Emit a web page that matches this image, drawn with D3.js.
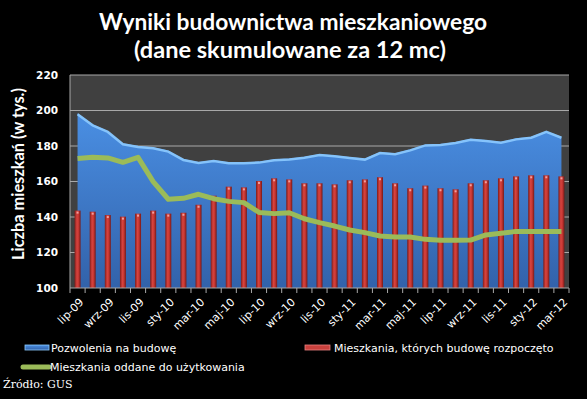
<!DOCTYPE html>
<meta charset='utf-8'>
<style>
  body { margin: 0; background: #000; }
  svg { display: block; }
</style>
<svg width='587' height='399'></svg>
<script src='https://cdn.jsdelivr.net/npm/d3@7'></script>
<script>
  // kategorie (miesiace) i serie w tys. mieszkan
  var categories = ['lip-09','sie-09','wrz-09','paź-09','lis-09','gru-09',
    'sty-10','lut-10','mar-10','kwi-10','maj-10','cze-10','lip-10','sie-10','wrz-10','paź-10','lis-10','gru-10',
    'sty-11','lut-11','mar-11','kwi-11','maj-11','cze-11','lip-11','sie-11','wrz-11','paź-11','lis-11','gru-11',
    'sty-12','lut-12','mar-12'];

  var pozwolenia = [198.4,192.2,188.5,181.5,180,179.3,177.4,172.7,171,172.1,170.8,170.8,
    171.2,172.5,173,174,175.5,174.8,173.8,172.9,176.6,175.9,178.1,180.9,181.1,182.3,
    184.1,183.4,182.4,184.3,185.2,188.5,185.2];

  var rozpoczete = [143.6,143,141.1,140.2,141.9,143.6,141.9,142.4,146.9,152,157.1,156.7,
    160.3,161.8,161.2,159,159,158.4,160.7,161.2,162.4,159,156.2,157.7,156.2,
    155.6,159,160.7,161.8,162.9,163.5,163.5,162.9];

  var oddane = [172.9,173.6,173.3,170.8,173.6,159.9,150,150.5,152.8,150.3,148.8,148.1,
    142.6,141.9,142.4,139,136.8,134.9,132.7,131.2,129.3,128.7,128.7,127.4,126.9,
    126.9,127,129.9,130.8,131.9,131.9,131.9,131.9];

  var yTicks = [100, 120, 140, 160, 180, 200, 220];

  var svg = d3.select('svg'),
    width = +svg.attr('width'),
    height = +svg.attr('height');

  var plotL = 70, plotR = 569, plotT = 75, plotB = 288;

  svg.append('rect').attr('width', width).attr('height', height).attr('fill', '#000');

  var defs = svg.append('defs');
  var gBlue = defs.append('linearGradient').attr('id', 'gBlue')
    .attr('x1', 0).attr('y1', 0).attr('x2', 0).attr('y2', 1);
  gBlue.append('stop').attr('offset', '0%').attr('stop-color', '#4a8fe3');
  gBlue.append('stop').attr('offset', '100%').attr('stop-color', '#3262aa');

  var gRed = defs.append('linearGradient').attr('id', 'gRed')
    .attr('x1', 0).attr('y1', 0).attr('x2', 1).attr('y2', 0);
  gRed.append('stop').attr('offset', '0%').attr('stop-color', '#7e1c1a');
  gRed.append('stop').attr('offset', '40%').attr('stop-color', '#d8433e');
  gRed.append('stop').attr('offset', '65%').attr('stop-color', '#c63733');
  gRed.append('stop').attr('offset', '100%').attr('stop-color', '#761816');

  var x = d3.scaleBand().domain(categories).range([plotL, plotR]);
  var y = d3.scaleLinear().domain([100, 220]).range([plotB, plotT]);
  var cx = d => x(d) + x.bandwidth() / 2;

  // tlo obszaru wykresu
  svg.append('rect')
    .attr('x', plotL).attr('y', plotT)
    .attr('width', plotR - plotL).attr('height', plotB - plotT)
    .attr('fill', '#404040');

  svg.append('g')
    .selectAll('line')
    .data(yTicks.slice(1))
    .enter().append('line')
      .attr('x1', plotL).attr('x2', plotR)
      .attr('y1', d => y(d)).attr('y2', d => y(d))
      .attr('stroke', '#a8a8a8').attr('stroke-width', 1);

  // pozwolenia - obszar
  var area = d3.area()
    .x((d, i) => cx(categories[i]))
    .y0(y(100))
    .y1(d => y(d));
  svg.append('path')
    .datum(pozwolenia)
    .attr('d', area)
    .attr('fill', 'url(#gBlue)');
  svg.append('path')
    .datum(pozwolenia)
    .attr('d', d3.line().x((d, i) => cx(categories[i])).y(d => y(d) + 1))
    .attr('fill', 'none')
    .attr('stroke', '#8ccaff')
    .attr('stroke-width', 2.5)
    .attr('stroke-opacity', 0.9);

  // rozpoczete - slupki
  var bw = 6;
  var bars = svg.append('g').selectAll('g')
    .data(rozpoczete)
    .enter().append('g');
  bars.append('rect')
    .attr('x', (d, i) => cx(categories[i]) - bw / 2)
    .attr('y', d => y(d))
    .attr('width', bw)
    .attr('height', d => y(100) - y(d))
    .attr('fill', 'url(#gRed)');
  bars.append('rect')
    .attr('x', (d, i) => cx(categories[i]) - 1)
    .attr('y', d => y(d) + 1)
    .attr('width', 2).attr('height', 2)
    .attr('fill', '#f2a0a0');

  // oddane - linia
  svg.append('path')
    .datum(oddane)
    .attr('d', d3.line().x((d, i) => cx(categories[i])).y(d => y(d)))
    .attr('fill', 'none')
    .attr('stroke', '#9bbb59')
    .attr('stroke-width', 5)
    .attr('stroke-linejoin', 'round');

  // osie
  svg.append('line')
    .attr('x1', plotL).attr('x2', plotL).attr('y1', plotT).attr('y2', plotB)
    .attr('stroke', '#a8a8a8');

  var xAxis = svg.append('g')
    .attr('transform', 'translate(0,' + plotB + ')');
  xAxis.append('line')
    .attr('x1', plotL).attr('x2', plotR)
    .attr('stroke', '#a8a8a8');
  xAxis.selectAll('.tick')
    .data(categories.concat(['end']))
    .enter().append('line')
      .attr('x1', (d, i) => i < categories.length ? x(d) : plotR)
      .attr('x2', (d, i) => i < categories.length ? x(d) : plotR)
      .attr('y1', 0).attr('y2', 5)
      .attr('stroke', '#a8a8a8');
  xAxis.selectAll('text')
    .data(categories.filter((d, i) => i % 2 === 0))
    .enter().append('text')
      .attr('transform', d => 'translate(' + (cx(d) + 4) + ',12) rotate(-45)')
      .attr('text-anchor', 'end')
      .attr('dy', '0.35em')
      .attr('fill', '#fff')
      .attr('font-family', 'DejaVu Sans')
      .attr('font-size', 11)
      .text(d => d);

  svg.append('g')
    .selectAll('text')
    .data(yTicks)
    .enter().append('text')
      .attr('x', 58)
      .attr('y', d => y(d))
      .attr('dy', '0.35em')
      .attr('text-anchor', 'end')
      .attr('fill', '#fff')
      .attr('font-family', 'DejaVu Sans')
      .attr('font-weight', 'bold')
      .attr('font-size', 10.5)
      .text(d => d);

  // tytuly
  var title = svg.append('g')
    .attr('fill', '#fff')
    .attr('font-family', 'Lato')
    .attr('font-weight', 'bold')
    .attr('font-size', 22)
    .attr('text-anchor', 'middle');
  title.append('text').attr('x', 293).attr('y', 30)
    .attr('textLength', 388).attr('lengthAdjust', 'spacingAndGlyphs')
    .text('Wyniki budownictwa mieszkaniowego');
  title.append('text').attr('x', 290).attr('y', 58)
    .attr('textLength', 312).attr('lengthAdjust', 'spacingAndGlyphs')
    .text('(dane skumulowane za 12 mc)');

  svg.append('text')
    .attr('transform', 'translate(24,174) rotate(-90)')
    .attr('text-anchor', 'middle')
    .attr('fill', '#fff')
    .attr('font-family', 'Lato')
    .attr('font-weight', 'bold')
    .attr('font-size', 17)
    .attr('textLength', 172).attr('lengthAdjust', 'spacingAndGlyphs')
    .text('Liczba mieszkań (w tys.)');

  // legenda
  var leg = svg.append('g')
    .attr('font-family', 'DejaVu Sans')
    .attr('font-size', 11)
    .attr('fill', '#fff');
  leg.append('rect').attr('x', 25).attr('y', 345).attr('width', 24).attr('height', 5)
    .attr('fill', 'url(#gBlue)').attr('stroke', '#8ccaff').attr('stroke-width', 0.8);
  leg.append('text').attr('x', 51).attr('y', 348).attr('dy', '0.35em')
    .text('Pozwolenia na budowę');
  leg.append('rect').attr('x', 305).attr('y', 345).attr('width', 25).attr('height', 5)
    .attr('fill', '#c9413d').attr('stroke', '#e88080').attr('stroke-width', 0.8);
  leg.append('text').attr('x', 334).attr('y', 348).attr('dy', '0.35em')
    .text('Mieszkania, których budowę rozpoczęto');
  leg.append('line').attr('x1', 23).attr('x2', 49).attr('y1', 367).attr('y2', 367)
    .attr('stroke', '#9bbb59').attr('stroke-width', 5).attr('stroke-linecap', 'round');
  leg.append('text').attr('x', 50).attr('y', 367).attr('dy', '0.35em')
    .text('Mieszkania oddane do użytkowania');

  svg.append('text')
    .attr('x', 3).attr('y', 384).attr('dy', '0.35em')
    .attr('fill', '#fff')
    .attr('font-family', 'DejaVu Serif')
    .attr('font-size', 11)
    .text('Źródło: GUS');
</script>
